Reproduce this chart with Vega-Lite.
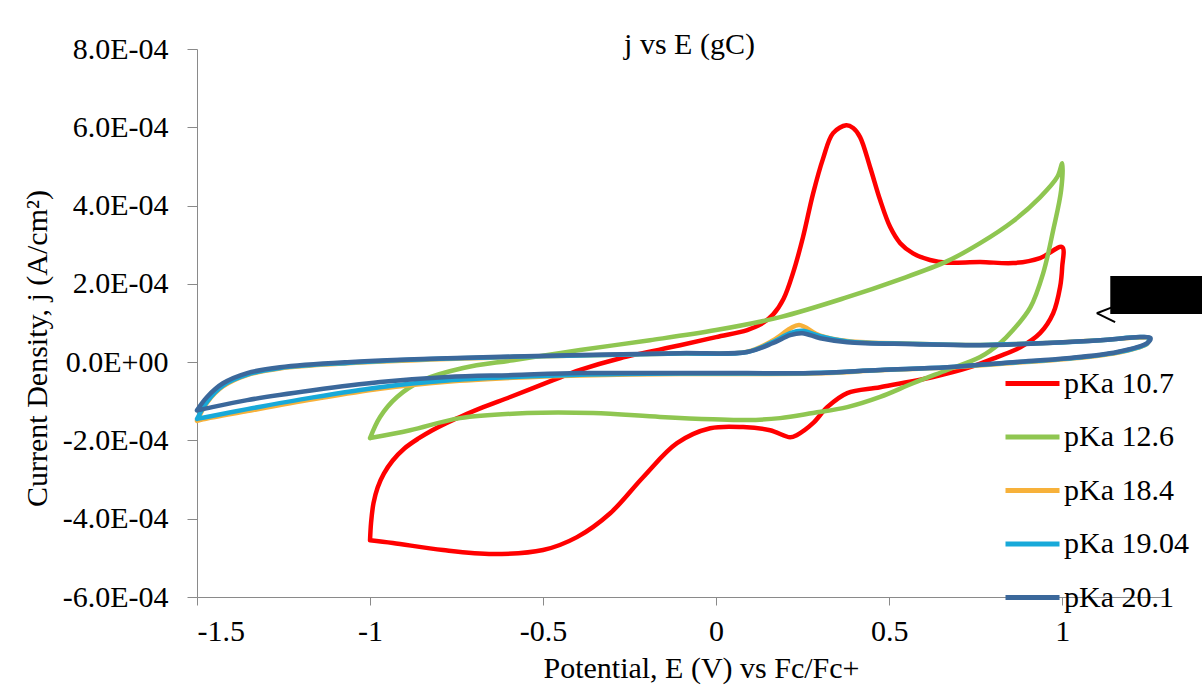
{
  "$schema": "https://vega.github.io/schema/vega-lite/v6.json",
  "autosize": {"type": "none"},
  "padding": {"left": 197, "top": 49, "right": 36, "bottom": 91},
  "width": 969,
  "height": 548,
  "background": "white",
  "title": {"text": "j vs E (gC)", "font": "Liberation Serif", "fontSize": 30, "fontWeight": "normal", "color": "black", "anchor": "middle", "frame": "group", "baseline": "alphabetic", "offset": -50, "dx": 8},
  "config": {
    "font": "Liberation Serif",
    "view": {"stroke": null},
    "axis": {"grid": false, "domainColor": "#8a8a8a", "tickColor": "#8a8a8a", "labelFont": "Liberation Serif", "labelFontSize": 30, "labelColor": "black", "titleFont": "Liberation Serif", "titleFontSize": 30, "titleFontWeight": "normal", "titleColor": "black"}
  },
  "datasets": {
    "cv": [
      {"E": -1.0, "j": -4.55e-4, "s": "pKa 10.7"},
      {"E": -0.997, "j": -4.10e-4, "s": "pKa 10.7"},
      {"E": -0.990, "j": -3.60e-4, "s": "pKa 10.7"},
      {"E": -0.978, "j": -3.20e-4, "s": "pKa 10.7"},
      {"E": -0.960, "j": -2.85e-4, "s": "pKa 10.7"},
      {"E": -0.935, "j": -2.52e-4, "s": "pKa 10.7"},
      {"E": -0.900, "j": -2.20e-4, "s": "pKa 10.7"},
      {"E": -0.860, "j": -1.95e-4, "s": "pKa 10.7"},
      {"E": -0.820, "j": -1.74e-4, "s": "pKa 10.7"},
      {"E": -0.780, "j": -1.56e-4, "s": "pKa 10.7"},
      {"E": -0.740, "j": -1.40e-4, "s": "pKa 10.7"},
      {"E": -0.673, "j": -1.15e-4, "s": "pKa 10.7"},
      {"E": -0.595, "j": -0.89e-4, "s": "pKa 10.7"},
      {"E": -0.471, "j": -0.46e-4, "s": "pKa 10.7"},
      {"E": -0.393, "j": -0.20e-4, "s": "pKa 10.7"},
      {"E": -0.277, "j": 0.10e-4, "s": "pKa 10.7"},
      {"E": -0.104, "j": 0.43e-4, "s": "pKa 10.7"},
      {"E": 0.0, "j": 0.64e-4, "s": "pKa 10.7"},
      {"E": 0.090, "j": 0.82e-4, "s": "pKa 10.7"},
      {"E": 0.130, "j": 0.97e-4, "s": "pKa 10.7"},
      {"E": 0.165, "j": 1.22e-4, "s": "pKa 10.7"},
      {"E": 0.195, "j": 1.62e-4, "s": "pKa 10.7"},
      {"E": 0.223, "j": 2.30e-4, "s": "pKa 10.7"},
      {"E": 0.251, "j": 3.19e-4, "s": "pKa 10.7"},
      {"E": 0.280, "j": 4.30e-4, "s": "pKa 10.7"},
      {"E": 0.309, "j": 5.20e-4, "s": "pKa 10.7"},
      {"E": 0.338, "j": 5.85e-4, "s": "pKa 10.7"},
      {"E": 0.376, "j": 6.05e-4, "s": "pKa 10.7"},
      {"E": 0.396, "j": 5.98e-4, "s": "pKa 10.7"},
      {"E": 0.416, "j": 5.75e-4, "s": "pKa 10.7"},
      {"E": 0.445, "j": 4.98e-4, "s": "pKa 10.7"},
      {"E": 0.474, "j": 4.14e-4, "s": "pKa 10.7"},
      {"E": 0.503, "j": 3.45e-4, "s": "pKa 10.7"},
      {"E": 0.532, "j": 3.04e-4, "s": "pKa 10.7"},
      {"E": 0.569, "j": 2.78e-4, "s": "pKa 10.7"},
      {"E": 0.618, "j": 2.61e-4, "s": "pKa 10.7"},
      {"E": 0.668, "j": 2.54e-4, "s": "pKa 10.7"},
      {"E": 0.763, "j": 2.56e-4, "s": "pKa 10.7"},
      {"E": 0.858, "j": 2.53e-4, "s": "pKa 10.7"},
      {"E": 0.936, "j": 2.66e-4, "s": "pKa 10.7"},
      {"E": 1.0, "j": 2.94e-4, "s": "pKa 10.7"},
      {"E": 1.0, "j": 2.43e-4, "s": "pKa 10.7"},
      {"E": 0.994, "j": 1.92e-4, "s": "pKa 10.7"},
      {"E": 0.974, "j": 1.25e-4, "s": "pKa 10.7"},
      {"E": 0.936, "j": 0.74e-4, "s": "pKa 10.7"},
      {"E": 0.879, "j": 0.38e-4, "s": "pKa 10.7"},
      {"E": 0.812, "j": 0.13e-4, "s": "pKa 10.7"},
      {"E": 0.734, "j": -0.13e-4, "s": "pKa 10.7"},
      {"E": 0.627, "j": -0.38e-4, "s": "pKa 10.7"},
      {"E": 0.474, "j": -0.64e-4, "s": "pKa 10.7"},
      {"E": 0.379, "j": -0.79e-4, "s": "pKa 10.7"},
      {"E": 0.321, "j": -1.15e-4, "s": "pKa 10.7"},
      {"E": 0.280, "j": -1.56e-4, "s": "pKa 10.7"},
      {"E": 0.234, "j": -1.86e-4, "s": "pKa 10.7"},
      {"E": 0.214, "j": -1.92e-4, "s": "pKa 10.7"},
      {"E": 0.156, "j": -1.74e-4, "s": "pKa 10.7"},
      {"E": 0.078, "j": -1.66e-4, "s": "pKa 10.7"},
      {"E": -0.017, "j": -1.69e-4, "s": "pKa 10.7"},
      {"E": -0.113, "j": -2.07e-4, "s": "pKa 10.7"},
      {"E": -0.211, "j": -2.94e-4, "s": "pKa 10.7"},
      {"E": -0.306, "j": -3.86e-4, "s": "pKa 10.7"},
      {"E": -0.402, "j": -4.47e-4, "s": "pKa 10.7"},
      {"E": -0.5, "j": -4.80e-4, "s": "pKa 10.7"},
      {"E": -0.645, "j": -4.90e-4, "s": "pKa 10.7"},
      {"E": -0.789, "j": -4.80e-4, "s": "pKa 10.7"},
      {"E": -0.934, "j": -4.62e-4, "s": "pKa 10.7"},
      {"E": -1.0, "j": -4.55e-4, "s": "pKa 10.7"},

      {"E": -1.0, "j": -1.94e-4, "s": "pKa 12.6"},
      {"E": -0.971, "j": -1.40e-4, "s": "pKa 12.6"},
      {"E": -0.922, "j": -0.89e-4, "s": "pKa 12.6"},
      {"E": -0.847, "j": -0.46e-4, "s": "pKa 12.6"},
      {"E": -0.731, "j": -0.15e-4, "s": "pKa 12.6"},
      {"E": -0.587, "j": 0.05e-4, "s": "pKa 12.6"},
      {"E": -0.393, "j": 0.31e-4, "s": "pKa 12.6"},
      {"E": -0.191, "j": 0.56e-4, "s": "pKa 12.6"},
      {"E": 0.0, "j": 0.82e-4, "s": "pKa 12.6"},
      {"E": 0.185, "j": 1.15e-4, "s": "pKa 12.6"},
      {"E": 0.379, "j": 1.66e-4, "s": "pKa 12.6"},
      {"E": 0.523, "j": 2.09e-4, "s": "pKa 12.6"},
      {"E": 0.668, "j": 2.58e-4, "s": "pKa 12.6"},
      {"E": 0.763, "j": 3.04e-4, "s": "pKa 12.6"},
      {"E": 0.858, "j": 3.60e-4, "s": "pKa 12.6"},
      {"E": 0.936, "j": 4.21e-4, "s": "pKa 12.6"},
      {"E": 0.986, "j": 4.73e-4, "s": "pKa 12.6"},
      {"E": 1.0, "j": 5.08e-4, "s": "pKa 12.6"},
      {"E": 0.997, "j": 4.39e-4, "s": "pKa 12.6"},
      {"E": 0.974, "j": 3.37e-4, "s": "pKa 12.6"},
      {"E": 0.945, "j": 2.27e-4, "s": "pKa 12.6"},
      {"E": 0.908, "j": 1.40e-4, "s": "pKa 12.6"},
      {"E": 0.858, "j": 0.82e-4, "s": "pKa 12.6"},
      {"E": 0.821, "j": 0.49e-4, "s": "pKa 12.6"},
      {"E": 0.763, "j": 0.13e-4, "s": "pKa 12.6"},
      {"E": 0.668, "j": -0.20e-4, "s": "pKa 12.6"},
      {"E": 0.569, "j": -0.54e-4, "s": "pKa 12.6"},
      {"E": 0.474, "j": -0.89e-4, "s": "pKa 12.6"},
      {"E": 0.379, "j": -1.15e-4, "s": "pKa 12.6"},
      {"E": 0.280, "j": -1.30e-4, "s": "pKa 12.6"},
      {"E": 0.185, "j": -1.43e-4, "s": "pKa 12.6"},
      {"E": 0.090, "j": -1.48e-4, "s": "pKa 12.6"},
      {"E": -0.009, "j": -1.46e-4, "s": "pKa 12.6"},
      {"E": -0.162, "j": -1.40e-4, "s": "pKa 12.6"},
      {"E": -0.355, "j": -1.30e-4, "s": "pKa 12.6"},
      {"E": -0.546, "j": -1.30e-4, "s": "pKa 12.6"},
      {"E": -0.740, "j": -1.43e-4, "s": "pKa 12.6"},
      {"E": -0.884, "j": -1.74e-4, "s": "pKa 12.6"},
      {"E": -1.0, "j": -1.94e-4, "s": "pKa 12.6"},

      {"E": -1.5, "j": -1.50e-4, "s": "pKa 18.4"},
      {"E": -1.47, "j": -1.02e-4, "s": "pKa 18.4"},
      {"E": -1.425, "j": -0.62e-4, "s": "pKa 18.4"},
      {"E": -1.355, "j": -0.33e-4, "s": "pKa 18.4"},
      {"E": -1.26, "j": -0.16e-4, "s": "pKa 18.4"},
      {"E": -1.066, "j": -0.03e-4, "s": "pKa 18.4"},
      {"E": -0.777, "j": 0.08e-4, "s": "pKa 18.4"},
      {"E": -0.393, "j": 0.17e-4, "s": "pKa 18.4"},
      {"E": -0.104, "j": 0.22e-4, "s": "pKa 18.4"},
      {"E": 0.09, "j": 0.27e-4, "s": "pKa 18.4"},
      {"E": 0.165, "j": 0.56e-4, "s": "pKa 18.4"},
      {"E": 0.214, "j": 0.86e-4, "s": "pKa 18.4"},
      {"E": 0.240, "j": 0.95e-4, "s": "pKa 18.4"},
      {"E": 0.301, "j": 0.68e-4, "s": "pKa 18.4"},
      {"E": 0.379, "j": 0.54e-4, "s": "pKa 18.4"},
      {"E": 0.569, "j": 0.47e-4, "s": "pKa 18.4"},
      {"E": 0.763, "j": 0.44e-4, "s": "pKa 18.4"},
      {"E": 0.957, "j": 0.49e-4, "s": "pKa 18.4"},
      {"E": 1.11, "j": 0.56e-4, "s": "pKa 18.4"},
      {"E": 1.225, "j": 0.63e-4, "s": "pKa 18.4"},
      {"E": 1.25, "j": 0.61e-4, "s": "pKa 18.4"},
      {"E": 1.246, "j": 0.47e-4, "s": "pKa 18.4"},
      {"E": 1.159, "j": 0.24e-4, "s": "pKa 18.4"},
      {"E": 1.014, "j": 0.08e-4, "s": "pKa 18.4"},
      {"E": 0.858, "j": -0.02e-4, "s": "pKa 18.4"},
      {"E": 0.668, "j": -0.14e-4, "s": "pKa 18.4"},
      {"E": 0.474, "j": -0.21e-4, "s": "pKa 18.4"},
      {"E": 0.28, "j": -0.29e-4, "s": "pKa 18.4"},
      {"E": 0.09, "j": -0.30e-4, "s": "pKa 18.4"},
      {"E": -0.104, "j": -0.30e-4, "s": "pKa 18.4"},
      {"E": -0.393, "j": -0.34e-4, "s": "pKa 18.4"},
      {"E": -0.587, "j": -0.40e-4, "s": "pKa 18.4"},
      {"E": -0.777, "j": -0.50e-4, "s": "pKa 18.4"},
      {"E": -0.971, "j": -0.68e-4, "s": "pKa 18.4"},
      {"E": -1.165, "j": -0.95e-4, "s": "pKa 18.4"},
      {"E": -1.355, "j": -1.25e-4, "s": "pKa 18.4"},
      {"E": -1.483, "j": -1.46e-4, "s": "pKa 18.4"},
      {"E": -1.5, "j": -1.50e-4, "s": "pKa 18.4"},

      {"E": -1.5, "j": -1.45e-4, "s": "pKa 19.04"},
      {"E": -1.47, "j": -1.00e-4, "s": "pKa 19.04"},
      {"E": -1.425, "j": -0.60e-4, "s": "pKa 19.04"},
      {"E": -1.355, "j": -0.32e-4, "s": "pKa 19.04"},
      {"E": -1.26, "j": -0.15e-4, "s": "pKa 19.04"},
      {"E": -1.066, "j": -0.02e-4, "s": "pKa 19.04"},
      {"E": -0.777, "j": 0.09e-4, "s": "pKa 19.04"},
      {"E": -0.393, "j": 0.17e-4, "s": "pKa 19.04"},
      {"E": -0.104, "j": 0.22e-4, "s": "pKa 19.04"},
      {"E": 0.09, "j": 0.26e-4, "s": "pKa 19.04"},
      {"E": 0.165, "j": 0.52e-4, "s": "pKa 19.04"},
      {"E": 0.214, "j": 0.74e-4, "s": "pKa 19.04"},
      {"E": 0.249, "j": 0.80e-4, "s": "pKa 19.04"},
      {"E": 0.301, "j": 0.66e-4, "s": "pKa 19.04"},
      {"E": 0.379, "j": 0.53e-4, "s": "pKa 19.04"},
      {"E": 0.569, "j": 0.47e-4, "s": "pKa 19.04"},
      {"E": 0.763, "j": 0.44e-4, "s": "pKa 19.04"},
      {"E": 0.957, "j": 0.49e-4, "s": "pKa 19.04"},
      {"E": 1.11, "j": 0.56e-4, "s": "pKa 19.04"},
      {"E": 1.225, "j": 0.64e-4, "s": "pKa 19.04"},
      {"E": 1.25, "j": 0.62e-4, "s": "pKa 19.04"},
      {"E": 1.246, "j": 0.48e-4, "s": "pKa 19.04"},
      {"E": 1.159, "j": 0.25e-4, "s": "pKa 19.04"},
      {"E": 1.014, "j": 0.09e-4, "s": "pKa 19.04"},
      {"E": 0.858, "j": -0.01e-4, "s": "pKa 19.04"},
      {"E": 0.668, "j": -0.13e-4, "s": "pKa 19.04"},
      {"E": 0.474, "j": -0.20e-4, "s": "pKa 19.04"},
      {"E": 0.28, "j": -0.28e-4, "s": "pKa 19.04"},
      {"E": 0.09, "j": -0.29e-4, "s": "pKa 19.04"},
      {"E": -0.104, "j": -0.29e-4, "s": "pKa 19.04"},
      {"E": -0.393, "j": -0.32e-4, "s": "pKa 19.04"},
      {"E": -0.587, "j": -0.38e-4, "s": "pKa 19.04"},
      {"E": -0.777, "j": -0.47e-4, "s": "pKa 19.04"},
      {"E": -0.971, "j": -0.64e-4, "s": "pKa 19.04"},
      {"E": -1.165, "j": -0.90e-4, "s": "pKa 19.04"},
      {"E": -1.355, "j": -1.20e-4, "s": "pKa 19.04"},
      {"E": -1.483, "j": -1.42e-4, "s": "pKa 19.04"},
      {"E": -1.5, "j": -1.45e-4, "s": "pKa 19.04"},

      {"E": -1.5, "j": -1.23e-4, "s": "pKa 20.1"},
      {"E": -1.471, "j": -0.89e-4, "s": "pKa 20.1"},
      {"E": -1.425, "j": -0.54e-4, "s": "pKa 20.1"},
      {"E": -1.355, "j": -0.28e-4, "s": "pKa 20.1"},
      {"E": -1.26, "j": -0.13e-4, "s": "pKa 20.1"},
      {"E": -1.066, "j": 0.0, "s": "pKa 20.1"},
      {"E": -0.777, "j": 0.10e-4, "s": "pKa 20.1"},
      {"E": -0.393, "j": 0.18e-4, "s": "pKa 20.1"},
      {"E": -0.104, "j": 0.23e-4, "s": "pKa 20.1"},
      {"E": 0.09, "j": 0.26e-4, "s": "pKa 20.1"},
      {"E": 0.165, "j": 0.49e-4, "s": "pKa 20.1"},
      {"E": 0.214, "j": 0.69e-4, "s": "pKa 20.1"},
      {"E": 0.249, "j": 0.74e-4, "s": "pKa 20.1"},
      {"E": 0.301, "j": 0.61e-4, "s": "pKa 20.1"},
      {"E": 0.379, "j": 0.51e-4, "s": "pKa 20.1"},
      {"E": 0.569, "j": 0.46e-4, "s": "pKa 20.1"},
      {"E": 0.763, "j": 0.43e-4, "s": "pKa 20.1"},
      {"E": 0.957, "j": 0.49e-4, "s": "pKa 20.1"},
      {"E": 1.11, "j": 0.56e-4, "s": "pKa 20.1"},
      {"E": 1.225, "j": 0.64e-4, "s": "pKa 20.1"},
      {"E": 1.255, "j": 0.62e-4, "s": "pKa 20.1"},
      {"E": 1.246, "j": 0.49e-4, "s": "pKa 20.1"},
      {"E": 1.159, "j": 0.26e-4, "s": "pKa 20.1"},
      {"E": 1.014, "j": 0.10e-4, "s": "pKa 20.1"},
      {"E": 0.858, "j": 0.0, "s": "pKa 20.1"},
      {"E": 0.668, "j": -0.13e-4, "s": "pKa 20.1"},
      {"E": 0.474, "j": -0.20e-4, "s": "pKa 20.1"},
      {"E": 0.28, "j": -0.28e-4, "s": "pKa 20.1"},
      {"E": 0.09, "j": -0.28e-4, "s": "pKa 20.1"},
      {"E": -0.104, "j": -0.28e-4, "s": "pKa 20.1"},
      {"E": -0.393, "j": -0.28e-4, "s": "pKa 20.1"},
      {"E": -0.587, "j": -0.33e-4, "s": "pKa 20.1"},
      {"E": -0.777, "j": -0.38e-4, "s": "pKa 20.1"},
      {"E": -0.971, "j": -0.51e-4, "s": "pKa 20.1"},
      {"E": -1.165, "j": -0.72e-4, "s": "pKa 20.1"},
      {"E": -1.355, "j": -0.97e-4, "s": "pKa 20.1"},
      {"E": -1.483, "j": -1.20e-4, "s": "pKa 20.1"},
      {"E": -1.5, "j": -1.23e-4, "s": "pKa 20.1"}
    ],
    "box": [{"E": 1.139, "E2": 1.42, "j": 2.2e-4, "j2": 1.23e-4}],
    "arrow": [
      {"E": 1.10, "j": 1.25e-4, "E2": 1.153, "j2": 1.43e-4},
      {"E": 1.10, "j": 1.25e-4, "E2": 1.153, "j2": 1.02e-4}
    ]
  },
  "layer": [
    {
      "data": {"name": "cv"},
      "mark": {"type": "line", "interpolate": "catmull-rom", "strokeWidth": 4.5, "strokeCap": "round", "strokeJoin": "round"},
      "encoding": {
        "x": {"field": "E", "type": "quantitative", "scale": {"domain": [-1.5, 1.3], "nice": false, "zero": false},
          "axis": {"values": [-1.5, -1, -0.5, 0, 0.5, 1], "labelExpr": "toString(datum.value)", "labelFont": "Liberation Serif", "tickSize": 8, "labelPadding": 11, "title": "Potential, E (V) vs Fc/Fc+", "titleX": 504, "titleY": 80, "titleAnchor": null, "titleAlign": "center", "titleBaseline": "alphabetic"}},
        "y": {"field": "j", "type": "quantitative", "scale": {"domain": [-0.0006, 0.0008], "nice": false, "zero": false},
          "axis": {"values": [-0.0006, -0.0004, -0.0002, 0, 0.0002, 0.0004, 0.0006, 0.0008], "labelExpr": "datum.value == 0 ? '0.0E+00' : (datum.value < 0 ? '-' : '') + format(abs(datum.value) * 10000, '.1f') + 'E-04'", "labelFont": "Liberation Serif", "tickSize": 10, "labelPadding": 19, "title": "Current Density, j (A/cm²)", "titleX": -151, "titleY": 299, "titleAngle": -90, "titleAlign": "center", "titleBaseline": "alphabetic"}},
        "color": {"field": "s", "type": "nominal",
          "scale": {"domain": ["pKa 10.7", "pKa 12.6", "pKa 18.4", "pKa 19.04", "pKa 20.1"], "range": ["#FF0000", "#8FC651", "#F7B13A", "#18A9D9", "#3B689B"]},
          "legend": {"title": null, "orient": "none", "legendX": 806, "legendY": 305, "symbolType": "stroke", "symbolSize": 2916, "symbolStrokeWidth": 5, "labelFont": "Liberation Serif", "labelFontSize": 30, "labelColor": "black", "labelOffset": 2, "rowPadding": 8.5, "padding": 0}},
        "order": {"value": null}
      }
    },
    {
      "data": {"name": "box"},
      "mark": {"type": "rect", "color": "black", "clip": false},
      "encoding": {
        "x": {"field": "E", "type": "quantitative"},
        "x2": {"field": "E2"},
        "y": {"field": "j", "type": "quantitative"},
        "y2": {"field": "j2"}
      }
    },
    {
      "data": {"name": "arrow"},
      "mark": {"type": "rule", "color": "black", "strokeWidth": 2},
      "encoding": {
        "x": {"field": "E", "type": "quantitative"},
        "x2": {"field": "E2"},
        "y": {"field": "j", "type": "quantitative"},
        "y2": {"field": "j2"}
      }
    }
  ]
}
